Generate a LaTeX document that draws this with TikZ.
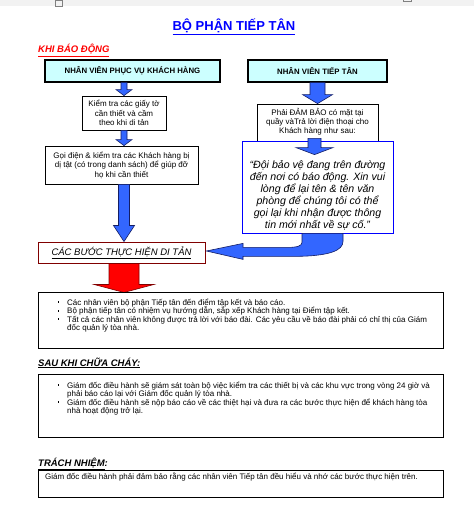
\documentclass[tikz,border=0pt]{standalone}
\usepackage{fontspec}
\setmainfont{Liberation Sans}
\usetikzlibrary{calc}
\definecolor{titleblue}{RGB}{0,0,255}
\definecolor{hdrred}{RGB}{255,0,0}
\definecolor{cyanfill}{RGB}{204,255,255}
\definecolor{arrowblue}{RGB}{51,102,255}
\definecolor{arrowedge}{RGB}{20,30,100}
\definecolor{darkred}{RGB}{128,0,0}
\definecolor{pagegray}{RGB}{242,242,242}
\newcommand\myvarrow[6]{%
  \path[#1] let \p1=#2, \p2=#3 in
    (\x1-#4pt,\y1) -- (\x1-#4pt,\y2+#6pt) -- (\x1-#5pt,\y2+#6pt) -- (\x1,\y2)
    -- (\x1+#5pt,\y2+#6pt) -- (\x1+#4pt,\y2+#6pt) -- (\x1+#4pt,\y1) -- cycle;}
\begin{document}
\begin{tikzpicture}[x=1pt,y=-1pt,
  hdrbox/.style={draw=black, line width=1.4pt, fill=cyanfill, inner sep=0pt,
    font=\fontsize{7.8}{9}\selectfont\bfseries, align=center},
  smallbox/.style={draw=black, line width=0.8pt, fill=white, inner sep=0pt,
    font=\fontsize{8}{9.6}\selectfont, align=center},
  bigbox/.style={draw=black, line width=0.8pt, fill=white, inner sep=0pt},
  bodytext/.style={inner sep=0pt, anchor=base west, font=\fontsize{8}{8.5}\selectfont},
  sechead/.style={inner sep=0pt, anchor=base west, font=\fontsize{9.5}{11}\selectfont\bfseries\itshape},
  bluearrow/.style={fill=arrowblue, draw=arrowedge, line width=0.6pt, line join=miter},
  redarrow/.style={fill=red, draw=darkred, line width=0.6pt, line join=miter},
  bulletmark/.style={fill=black, minimum size=1.8pt, inner sep=0pt}]
\useasboundingbox (0,0) rectangle (474,510);
\fill[white] (0,0) rectangle (474,510);
\fill[pagegray] (0,0) rectangle (474,6);
\draw[gray, line width=0.5pt] (55.5,0) rectangle (62.5,6);
\draw[gray, line width=0.5pt] (403,-1) rectangle (411,1);

% title and first header
\node[inner sep=0pt, text=titleblue, font=\fontsize{13}{15}\selectfont\bfseries] (title) at (234,27) {\underline{BỘ PHẬN TIẾP TÂN}};
\node[sechead, text=hdrred] (khi) at (38,53) {\underline{KHI BÁO ĐỘNG}};

% left column
\node[hdrbox, minimum width=175pt, minimum height=22pt] (b1) at (132.5,71) {NHÂN VIÊN PHỤC VỤ KHÁCH HÀNG};
\node[smallbox, minimum width=84pt, minimum height=34pt] (kt) at (124,113) {Kiểm tra các giấy tờ\\cần thiết và cầm\\theo khi di tản};
\node[smallbox, minimum width=153pt, minimum height=38pt] (b3) at (121.5,165) {Gọi điện \& kiểm tra các Khách hàng bị\\dị tật (có trong danh sách) để giúp đỡ\\họ khi cần thiết};
\node[draw=darkred, line width=0.9pt, fill=white, inner sep=0pt, minimum width=167pt, minimum height=21pt,
  font=\fontsize{9.5}{11}\selectfont\itshape] (steps) at (121.5,252.5) {\underline{CÁC BƯỚC THỰC HIỆN DI TẢN}};

% right column
\node[hdrbox, minimum width=139pt, minimum height=22pt] (b2) at (317.5,71) {NHÂN VIÊN TIẾP TÂN};
\node[smallbox, minimum width=121pt, minimum height=41pt] (ur) at (317.5,124.5) {};
\node[inner sep=0pt, align=center, font=\fontsize{8}{9}\selectfont] (urtext) at (317.5,122) {Phải ĐẢM BẢO có mặt tại\\quầy vàTrả lời điện thoại cho\\Khách hàng như sau:};
\node[draw=titleblue, line width=0.8pt, fill=white, inner sep=0pt, minimum width=151pt, minimum height=92pt] (quote) at (317.5,187) {};
\node[inner sep=0pt, align=center, font=\fontsize{10.6}{12}\selectfont\itshape] (qtext) at (317.5,195.5)
  {“Đội bảo vệ đang trên đường\\đến nơi có báo động. Xin vui\\lòng để lại tên \& tên văn\\phòng để chúng tôi có thể\\gọi lại khi nhận được thông\\tin mới nhất về sự cố.”};

% block arrows
\myvarrow{bluearrow}{(b1.south -| kt.center)}{(kt.north)}{3}{8}{6}
\myvarrow{bluearrow}{(kt.south)}{(b3.north -| kt.center)}{3}{8}{6}
\myvarrow{bluearrow}{(b3.south -| kt.center)}{(steps.north -| kt.center)}{5.5}{10.5}{16}
\myvarrow{bluearrow}{(b2.south)}{(ur.north)}{7.5}{15}{9}
\myvarrow{bluearrow}{($(ur.south)+(-3,-7)$)}{($(quote.north)+(-3,14)$)}{6.5}{18.5}{7}
\path[bluearrow] ($(quote.south)+(-15.5,0)$) -- ($(quote.south)+(-15.5,9)$)
  .. controls ($(quote.south)+(-15.5,12.5)$) and ($(quote.south)+(-20.5,14)$) .. ($(quote.south)+(-29.5,14)$)
  -- ($(quote.south)+(-74.5,14)$) -- ($(quote.south)+(-74.5,10)$)
  -- ($(steps.east)+(1,-1.5)$)
  -- ($(quote.south)+(-74.5,26)$) -- ($(quote.south)+(-74.5,23)$) -- ($(quote.south)+(-25.5,23)$)
  .. controls ($(quote.south)+(12.5,23)$) and ($(quote.south)+(25.5,17)$) .. ($(quote.south)+(25.5,8)$)
  -- ($(quote.south)+(25.5,0)$) -- cycle;
\myvarrow{redarrow}{(steps.south -| kt.center)}{($(kt.center |- steps.south)+(0,29)$)}{15}{30}{8}

% evacuation steps box
\node[bigbox, minimum width=405pt, minimum height=56pt] (box4) at (240.5,320) {};
\node[bulletmark] (m41) at (58.5,302.3) {};
\node[bodytext] (t41) at (67,305) {Các nhân viên bộ phận Tiếp tân đến điểm tập kết và báo cáo.};
\node[bulletmark] (m42) at (58.5,310.8) {};
\node[bodytext] (t42) at (67,313.5) {Bộ phận tiếp tân có nhiệm vụ hướng dẫn, sắp xếp Khách hàng tại Điểm tập kết.};
\node[bulletmark] (m43) at (58.5,319.3) {};
\node[bodytext] (t43) at (67,322) {Tất cả các nhân viên không được trả lời với báo đài. Các yêu cầu về báo đài phải có chỉ thị của Giám};
\node[bodytext] (t43b) at (67,330.5) {đốc quản lý tòa nhà.};

% after fire
\node[sechead] (sau) at (38,366) {\underline{SAU KHI CHỮA CHÁY:}};
\node[bigbox, minimum width=405pt, minimum height=63pt] (box5) at (240.5,405.5) {};
\node[bulletmark] (m51) at (58.5,385.3) {};
\node[bodytext] (t51) at (67,388) {Giám đốc điều hành sẽ giám sát toàn bộ việc kiểm tra các thiết bị và các khu vực trong vòng 24 giờ và};
\node[bodytext] (t51b) at (67,396.5) {phải báo cáo lại với Giám đốc quản lý tòa nhà.};
\node[bulletmark] (m52) at (58.5,402.3) {};
\node[bodytext] (t52) at (67,405) {Giám đốc điều hành sẽ nộp báo cáo về các thiệt hại và đưa ra các bước thực hiện để khách hàng tòa};
\node[bodytext] (t52b) at (67,413.5) {nhà hoạt động trở lại.};

% responsibility
\node[sechead] (trach) at (38,466) {\underline{TRÁCH NHIỆM}:};
\node[bigbox, minimum width=405pt, minimum height=27pt] (box6) at (240.5,483.5) {};
\node[bodytext] (t6) at (45,479.5) {Giám đốc điều hành phải đảm bảo rằng các nhân viên Tiếp tân đều hiểu và nhớ các bước thực hiện trên.};
\end{tikzpicture}
\end{document}
